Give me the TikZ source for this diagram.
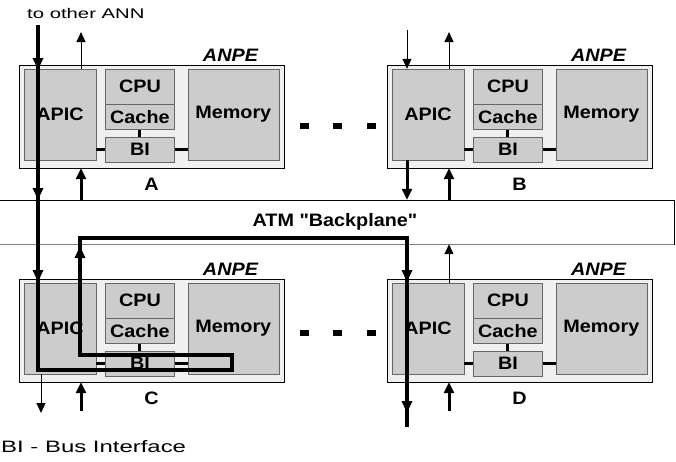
\documentclass[tikz,border=0pt]{standalone}
\usepackage{fontspec}
\setmainfont{Liberation Sans}[FakeStretch=1.1]
\newfontfamily\widesans{Liberation Sans}[FakeStretch=1.45]
\newfontfamily\plainsans{Liberation Sans}[FakeStretch=1.1]
\usetikzlibrary{positioning, arrows.meta, decorations.markings}

\begin{document}
\begin{tikzpicture}[x=1pt, y=1pt,
            anpebox/.style={draw, thin, fill=gray!12, minimum width=265pt, minimum height=103pt, inner sep=0pt},
            part/.style={draw=black!60, thin, fill=gray!40, inner sep=0pt, font=\bfseries\fontsize{18}{20}\selectfont},
            apic/.style={part, minimum width=72pt, minimum height=91pt},
            mem/.style={part, minimum width=91pt, minimum height=91pt},
            cpu/.style={part, minimum width=69pt, minimum height=35pt},
            cache/.style={part, minimum width=69pt, minimum height=25pt},
            bi/.style={part, minimum width=69pt, minimum height=25pt},
            tag/.style={inner sep=0pt, font=\bfseries\itshape\fontsize{18}{20}\selectfont},
            unitname/.style={inner sep=0pt, font=\bfseries\fontsize{18}{20}\selectfont},
            dot/.style={fill, minimum width=9pt, minimum height=6pt, inner sep=0pt},
            link/.style={line width=3pt},
            tarrow/.style={-{Triangle[length=10pt, width=9pt]}, line width=1pt},
            karrow/.style={-{Triangle[length=11pt, width=10pt]}, line width=3pt},
            route/.style={line width=4.5pt, postaction={decorate}, decoration={markings,
                mark=at position 45pt with {\arrow{Triangle[length=12pt, width=10pt]}},
                mark=at position 175pt with {\arrow{Triangle[length=12pt, width=10pt]}},
                mark=at position 257pt with {\arrow{Triangle[length=12pt, width=10pt]}},
                mark=at position 815pt with {\arrow{Triangle[length=12pt, width=10pt]}},
                mark=at position 1194pt with {\arrow{Triangle[length=12pt, width=10pt]}},
                mark=at position 1325pt with {\arrow{Triangle[length=12pt, width=10pt]}}}}
        ]
            \useasboundingbox (0,0) rectangle (676,-461);

            % unit A
            \node [anpebox] (outA) at (151.5,-116.5) {};
            \node [apic, below right=4pt and 5pt of outA.north west] (apicA) {APIC};
            \node [cpu, below right=0pt and 9pt of apicA.north east] (cpuA) {CPU};
            \node [cache, below=0pt of cpuA] (cacheA) {Cache};
            \node [bi, below=7pt of cacheA] (biA) {BI};
            \node [mem, below right=0pt and 13pt of cpuA.north east] (memA) {Memory};
            \node [tag, above left=3pt and 26pt of outA.north east] (anpeA) {ANPE};
            \node [unitname, below=10pt of outA] (nameA) {A};

            % unit B
            \node [anpebox] (outB) at (519.5,-116.5) {};
            \node [apic, below right=4pt and 5pt of outB.north west] (apicB) {APIC};
            \node [cpu, below right=0pt and 9pt of apicB.north east] (cpuB) {CPU};
            \node [cache, below=0pt of cpuB] (cacheB) {Cache};
            \node [bi, below=7pt of cacheB] (biB) {BI};
            \node [mem, below right=0pt and 13pt of cpuB.north east] (memB) {Memory};
            \node [tag, above left=3pt and 26pt of outB.north east] (anpeB) {ANPE};
            \node [unitname, below=10pt of outB] (nameB) {B};

            % unit C
            \node [anpebox] (outC) at (151.5,-330.5) {};
            \node [apic, below right=4pt and 5pt of outC.north west] (apicC) {APIC};
            \node [cpu, below right=0pt and 9pt of apicC.north east] (cpuC) {CPU};
            \node [cache, below=0pt of cpuC] (cacheC) {Cache};
            \node [bi, below=7pt of cacheC] (biC) {BI};
            \node [mem, below right=0pt and 13pt of cpuC.north east] (memC) {Memory};
            \node [tag, above left=3pt and 26pt of outC.north east] (anpeC) {ANPE};
            \node [unitname, below=10pt of outC] (nameC) {C};

            % unit D
            \node [anpebox] (outD) at (519.5,-330.5) {};
            \node [apic, below right=4pt and 5pt of outD.north west] (apicD) {APIC};
            \node [cpu, below right=0pt and 9pt of apicD.north east] (cpuD) {CPU};
            \node [cache, below=0pt of cpuD] (cacheD) {Cache};
            \node [bi, below=7pt of cacheD] (biD) {BI};
            \node [mem, below right=0pt and 13pt of cpuD.north east] (memD) {Memory};
            \node [tag, above left=3pt and 26pt of outD.north east] (anpeD) {ANPE};
            \node [unitname, below=10pt of outD] (nameD) {D};

            % bus links inside each unit
            \draw [link] (biA.west) -- (biA.west -| apicA.east);
            \draw [link] (cacheA.south) -- (biA.north);
            \draw [link] (biA.east) -- (biA.east -| memA.west);
            \draw [link] (biB.west) -- (biB.west -| apicB.east);
            \draw [link] (cacheB.south) -- (biB.north);
            \draw [link] (biB.east) -- (biB.east -| memB.west);
            \draw [link] (biC.west) -- (biC.west -| apicC.east);
            \draw [link] (cacheC.south) -- (biC.north);
            \draw [link] (biC.east) -- (biC.east -| memC.west);
            \draw [link] (biD.west) -- (biD.west -| apicD.east);
            \draw [link] (cacheD.south) -- (biD.north);
            \draw [link] (biD.east) -- (biD.east -| memD.west);

            % dots between the units
            \node [dot] (dotA1) at (304,-126) {};
            \node [dot] (dotA2) at (337,-126) {};
            \node [dot] (dotA3) at (371,-126) {};
            \node [dot] (dotC1) at (304,-333) {};
            \node [dot] (dotC2) at (337,-333) {};
            \node [dot] (dotC3) at (371,-333) {};

            % backplane
            \node [draw, thin, fill=white, minimum width=678pt, minimum height=44pt, font=\plainsans\bfseries\fontsize{18}{20}\selectfont] (bp) at (335,-222) {ATM "Backplane"};
            \draw [gray] (bp.south west) -- (bp.south east);

            % texts
            \node [anchor=base west, inner sep=0pt, font=\widesans\fontsize{14}{16}\selectfont] (annTxt) at (27,-18) {to other ANN};
            \node [anchor=base west, inner sep=0pt, font=\widesans\fontsize{16.5}{18}\selectfont] (biTxt) at (1,-452) {BI - Bus Interface};

            % arrows of A and B
            \coordinate (aUp) at (81,-32);
            \coordinate (bIn) at (407,-30);
            \coordinate (bUp) at (449,-32);
            \draw [tarrow] (aUp |- apicA.north) -- (aUp);
            \draw [karrow] (aUp |- bp.north) -- (aUp |- outA.south);
            \draw [tarrow] (bIn) -- (bIn |- apicB.north);
            \draw [tarrow] (bUp |- apicB.north) -- (bUp);
            \draw [karrow] (bIn |- apicB.south) -- (bIn |- bp.north);
            \draw [karrow] (bUp |- bp.north) -- (bUp |- outB.south);

            % arrows of C and D
            \coordinate (cDown) at (41,-413);
            \coordinate (cIn) at (81,-411);
            \coordinate (dUp) at (449,-411);
            \draw [tarrow] (cDown |- apicC.south) -- (cDown);
            \draw [karrow] (cIn) -- (cIn |- outC.south);
            \draw [tarrow] (dUp |- apicD.north) -- (dUp |- bp.south);
            \draw [karrow] (dUp) -- (dUp |- outD.south);

            % path from the other ANN through C to D
            \coordinate (r0) at (38,-25);
            \coordinate (r1) at (38,-370);
            \coordinate (r2) at (232,-370);
            \coordinate (r3) at (232,-355);
            \coordinate (r4) at (80,-355);
            \coordinate (r5) at (80,-238);
            \coordinate (r6) at (407,-238);
            \coordinate (r7) at (407,-427);
            \draw [route] (r0) -- (r1) -- (r2) -- (r3) -- (r4) -- (r5) -- (r6) -- (r7);

        \end{tikzpicture}
\end{document}
